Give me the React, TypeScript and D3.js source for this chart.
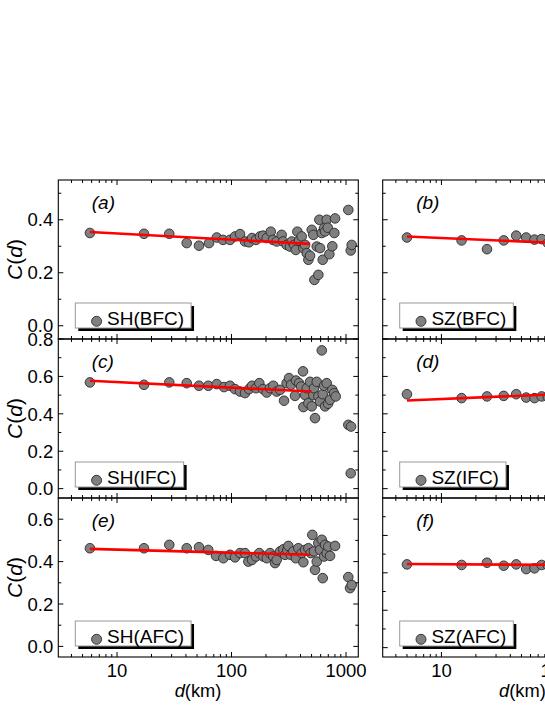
import React from 'react';
import * as d3 from 'd3';

const W = 545;
const H = 705;
const FONT = '"Liberation Sans", Arial, Helvetica, sans-serif';

// ---------- data ----------
const SH_BFC_D = [5.8, 17.2, 28.6, 40.6, 52.0, 63.6, 74.3, 84.3, 97.0, 107.3, 118.7, 131.2, 142.1, 151.0, 163.7, 177.4, 188.4, 203, 220, 230, 248, 274, 282, 303, 324, 336, 352, 364, 376, 389, 410, 424, 439, 454, 469, 485, 502, 518, 529, 555, 573, 585, 593, 614, 626, 643, 656, 678, 692, 715, 759, 790, 802, 1047, 1099, 1121];
const SH_BFC_C = [0.350, 0.347, 0.347, 0.312, 0.302, 0.312, 0.333, 0.324, 0.324, 0.337, 0.346, 0.318, 0.315, 0.331, 0.324, 0.337, 0.340, 0.331, 0.355, 0.324, 0.318, 0.343, 0.318, 0.305, 0.299, 0.318, 0.305, 0.286, 0.355, 0.321, 0.337, 0.293, 0.305, 0.274, 0.249, 0.264, 0.362, 0.343, 0.173, 0.299, 0.192, 0.400, 0.293, 0.350, 0.249, 0.368, 0.356, 0.400, 0.370, 0.270, 0.300, 0.350, 0.405, 0.437, 0.284, 0.305];

const SH_IFC_D = [5.8, 17.2, 28.6, 40.6, 52.0, 62.7, 74.3, 86.0, 97.0, 107.3, 118.7, 131.2, 142.1, 151.0, 163.7, 174.9, 188.4, 203, 216.9, 231.7, 248, 265.3, 287.5, 303, 317.8, 330.9, 358.5, 365.8, 389, 404.6, 421, 424, 439, 454, 469, 485, 502, 518, 525.3, 536, 555, 573, 593, 614, 626, 643, 656, 678, 696.4, 725, 759, 785.6, 813, 1047, 1106, 1099];
const SH_IFC_C = [0.568, 0.555, 0.568, 0.564, 0.550, 0.550, 0.559, 0.543, 0.550, 0.532, 0.519, 0.511, 0.532, 0.550, 0.537, 0.564, 0.532, 0.514, 0.537, 0.550, 0.519, 0.528, 0.470, 0.564, 0.591, 0.555, 0.496, 0.578, 0.564, 0.546, 0.627, 0.436, 0.500, 0.537, 0.457, 0.571, 0.440, 0.500, 0.537, 0.377, 0.571, 0.493, 0.466, 0.739, 0.505, 0.550, 0.440, 0.564, 0.454, 0.475, 0.528, 0.510, 0.493, 0.341, 0.332, 0.082];

const SH_AFC_D = [5.8, 17.2, 28.6, 40.6, 52.0, 62.7, 73.2, 84.8, 97.0, 107.3, 118.7, 131.2, 140.2, 151.0, 163.7, 174.9, 189.5, 203, 216.9, 231.7, 239.9, 248, 265.3, 283.5, 293.3, 307.2, 313.3, 328.8, 346.5, 364, 383.2, 410, 424, 439, 469, 491.7, 507.7, 525.3, 536, 555, 573, 593, 614, 626, 643, 656, 678, 700.6, 725, 802, 1047, 1084, 1121];
const SH_AFC_C = [0.463, 0.463, 0.479, 0.463, 0.468, 0.455, 0.427, 0.416, 0.432, 0.420, 0.440, 0.440, 0.400, 0.408, 0.424, 0.440, 0.424, 0.416, 0.440, 0.424, 0.393, 0.408, 0.448, 0.458, 0.432, 0.455, 0.474, 0.432, 0.448, 0.416, 0.463, 0.440, 0.397, 0.455, 0.463, 0.440, 0.526, 0.448, 0.361, 0.400, 0.487, 0.455, 0.503, 0.322, 0.424, 0.479, 0.440, 0.471, 0.427, 0.474, 0.327, 0.275, 0.290];

const SZ_D = [5, 15, 25, 35, 45, 55, 65, 75, 85];
const SZ_BFC_C = [0.333, 0.322, 0.289, 0.322, 0.340, 0.333, 0.325, 0.327, 0.312];
const SZ_IFC_C = [0.505, 0.484, 0.493, 0.496, 0.505, 0.487, 0.484, 0.493, 0.490];
const SZ_AFC_C = [0.445, 0.442, 0.454, 0.438, 0.445, 0.420, 0.424, 0.442, 0.440];

// linear fits (endpoints: [d, C])
const FIT_SH_BFC = [[5.8, 0.354], [485, 0.309]];
const FIT_SH_IFC = [[5.8, 0.577], [500, 0.519]];
const FIT_SH_AFC = [[5.8, 0.460], [485, 0.432]];
const FIT_SZ_BFC = [[5, 0.337], [500, 0.299]];
const FIT_SZ_IFC = [[5, 0.471], [500, 0.523]];
const FIT_SZ_AFC = [[5, 0.447], [500, 0.440]];

const X_DOMAIN = [3.07, 1280];
const X_MAJOR = [10, 100, 1000];
const X_LABELS = ['10', '100', '1000'];
const X_MINOR_MULT = [2, 3, 4, 5, 6, 7, 8, 9];
const X_DECADES = [1, 10, 100, 1000];

const Y_DOM_BFC = [-0.05, 0.55];
const Y_DOM_IFC = [-0.05, 0.8];
const Y_DOM_AFC_SH = [-0.05, 0.7];
const Y_DOM_AFC_SZ = [-0.05, 0.8];

const Y_MAJOR_BFC = [0, 0.2, 0.4];
const Y_MINOR_BFC = [0.1, 0.3, 0.5];
const Y_MAJOR_IFC = [0, 0.2, 0.4, 0.6, 0.8];
const Y_MINOR_IFC = [0.1, 0.3, 0.5, 0.7];
const Y_MAJOR_AFC_SH = [0, 0.2, 0.4, 0.6];
const Y_MINOR_AFC_SH = [0.1, 0.3, 0.5];
const Y_MAJOR_AFC_SZ = [0, 0.2, 0.4, 0.6];
const Y_MINOR_AFC_SZ = [0.1, 0.3, 0.5, 0.7];

// ---------- layout ----------
const COL_X = [58.3, 382.7];
const PANEL_W = 300;
const ROW_Y = [180, 339, 498];
const PANEL_H = 159;

const PANELS = [
  { col: 0, row: 0, tag: '(a)', legend: 'SH(BFC)', d: SH_BFC_D, c: SH_BFC_C, fit: FIT_SH_BFC, yDom: Y_DOM_BFC, yMaj: Y_MAJOR_BFC, yMin: Y_MINOR_BFC },
  { col: 0, row: 1, tag: '(c)', legend: 'SH(IFC)', d: SH_IFC_D, c: SH_IFC_C, fit: FIT_SH_IFC, yDom: Y_DOM_IFC, yMaj: Y_MAJOR_IFC, yMin: Y_MINOR_IFC },
  { col: 0, row: 2, tag: '(e)', legend: 'SH(AFC)', d: SH_AFC_D, c: SH_AFC_C, fit: FIT_SH_AFC, yDom: Y_DOM_AFC_SH, yMaj: Y_MAJOR_AFC_SH, yMin: Y_MINOR_AFC_SH },
  { col: 1, row: 0, tag: '(b)', legend: 'SZ(BFC)', d: SZ_D, c: SZ_BFC_C, fit: FIT_SZ_BFC, yDom: Y_DOM_BFC, yMaj: Y_MAJOR_BFC, yMin: Y_MINOR_BFC },
  { col: 1, row: 1, tag: '(d)', legend: 'SZ(IFC)', d: SZ_D, c: SZ_IFC_C, fit: FIT_SZ_IFC, yDom: Y_DOM_IFC, yMaj: Y_MAJOR_IFC, yMin: Y_MINOR_IFC },
  { col: 1, row: 2, tag: '(f)', legend: 'SZ(AFC)', d: SZ_D, c: SZ_AFC_C, fit: FIT_SZ_AFC, yDom: Y_DOM_AFC_SZ, yMaj: Y_MAJOR_AFC_SZ, yMin: Y_MINOR_AFC_SZ },
];

const CHAR_W: Record<string, number> = { S: 0.667, H: 0.722, Z: 0.611, '(': 0.333, ')': 0.333, B: 0.667, F: 0.611, C: 0.722, I: 0.278, A: 0.667 };
const textW = (s: string, fs: number) => s.split('').reduce((a, ch) => a + (CHAR_W[ch] ?? 0.6), 0) * fs;

const MAJ_LEN = 5;
const MIN_LEN = 3;

function Panel({ p }: { p: typeof PANELS[number] }) {
  const x0 = COL_X[p.col];
  const y0 = ROW_Y[p.row];
  const x = d3.scaleLog().domain(X_DOMAIN).range([x0, x0 + PANEL_W]);
  const y = d3.scaleLinear().domain(p.yDom).range([y0 + PANEL_H, y0]);
  const xMinor: number[] = [];
  X_DECADES.forEach((dec) => X_MINOR_MULT.forEach((m) => {
    const v = dec * m;
    if (v > X_DOMAIN[0] && v < X_DOMAIN[1]) xMinor.push(v);
  }));
  const xr = x0 + PANEL_W;
  const yb = y0 + PANEL_H;
  const line = d3.line<number[]>().x((q) => x(q[0])).y((q) => y(q[1]));
  const fsLeg = 19;
  const legW = 48.7 - 17 + textW(p.legend, fsLeg) + 7;
  const lx = x0 + 17;
  const ly = y0 + 123;
  const isBottom = p.row === 2;
  return (
    <g>
      {/* points */}
      {p.d.map((dv, i) => (
        <circle key={i} cx={x(dv)} cy={y(p.c[i])} r={4.8} fill="#808080" stroke="#2a2a2a" strokeWidth={0.9} />
      ))}
      {/* fit line */}
      <path d={line(p.fit) || ''} stroke="#ff0000" strokeWidth={2.6} fill="none" />
      {/* frame */}
      <rect x={x0} y={y0} width={PANEL_W} height={PANEL_H} fill="none" stroke="#000" strokeWidth={1.1} />
      {/* x ticks top & bottom */}
      {X_MAJOR.map((v) => (
        <g key={'xm' + v}>
          <line x1={x(v)} x2={x(v)} y1={yb} y2={yb - MAJ_LEN} stroke="#000" strokeWidth={1} />
          <line x1={x(v)} x2={x(v)} y1={y0} y2={y0 + MAJ_LEN} stroke="#000" strokeWidth={1} />
        </g>
      ))}
      {xMinor.map((v) => (
        <g key={'xn' + v}>
          <line x1={x(v)} x2={x(v)} y1={yb} y2={yb - MIN_LEN} stroke="#000" strokeWidth={1} />
          <line x1={x(v)} x2={x(v)} y1={y0} y2={y0 + MIN_LEN} stroke="#000" strokeWidth={1} />
        </g>
      ))}
      {/* y ticks left & right */}
      {p.yMaj.map((v) => (
        <g key={'ym' + v}>
          <line x1={x0} x2={x0 + MAJ_LEN} y1={y(v)} y2={y(v)} stroke="#000" strokeWidth={1} />
          <line x1={xr} x2={xr - MAJ_LEN} y1={y(v)} y2={y(v)} stroke="#000" strokeWidth={1} />
        </g>
      ))}
      {p.yMin.map((v) => (
        <g key={'yn' + v}>
          <line x1={x0} x2={x0 + MIN_LEN} y1={y(v)} y2={y(v)} stroke="#000" strokeWidth={1} />
          <line x1={xr} x2={xr - MIN_LEN} y1={y(v)} y2={y(v)} stroke="#000" strokeWidth={1} />
        </g>
      ))}
      {/* y tick labels (left column only) */}
      {p.col === 0 && p.yMaj.map((v) => (
        <text key={'yl' + v} x={x0 - 5} y={y(v) + 6.7} textAnchor="end" fontSize={18.5} fontFamily={FONT}>{d3.format('.1f')(v)}</text>
      ))}
      {/* y axis title */}
      {p.col === 0 && (
        <text transform={`translate(22,${y0 + PANEL_H / 2}) rotate(-90)`} textAnchor="middle" fontSize={21} fontFamily={FONT}>
          <tspan fontStyle="italic">C</tspan>(<tspan fontStyle="italic">d</tspan>)
        </text>
      )}
      {/* x tick labels */}
      {isBottom && X_MAJOR.map((v, i) => (
        <text key={'xl' + v} x={x(v)} y={yb + 20} textAnchor="middle" fontSize={18.5} fontFamily={FONT}>{X_LABELS[i]}</text>
      ))}
      {isBottom && (
        <text x={x0 + 139.7} y={697} textAnchor="middle" fontSize={18.3} fontFamily={FONT}>
          <tspan fontStyle="italic">d</tspan>(km)
        </text>
      )}
      {/* panel tag */}
      <text x={x0 + 33.5} y={y0 + 29} fontSize={19} fontStyle="italic" fontFamily={FONT}>{p.tag}</text>
      {/* legend */}
      <rect x={lx + 3} y={ly + 3} width={legW} height={25} fill="#000" />
      <rect x={lx} y={ly} width={legW} height={25} fill="#fff" stroke="#999" strokeWidth={1} />
      <circle cx={x0 + 38.3} cy={ly + 18.3} r={5} fill="#808080" stroke="#2a2a2a" strokeWidth={0.9} />
      <text x={x0 + 48.7} y={ly + 22.3} fontSize={fsLeg} fontFamily={FONT}>{p.legend}</text>
    </g>
  );
}

export default function App() {
  return (
    <svg width={W} height={H} viewBox={`0 0 ${W} ${H}`} style={{ position: 'absolute', left: 0, top: 0, background: '#fff' }}>
      <rect x={0} y={0} width={W} height={H} fill="#fff" />
      {PANELS.map((p, i) => <Panel key={i} p={p} />)}
    </svg>
  );
}
